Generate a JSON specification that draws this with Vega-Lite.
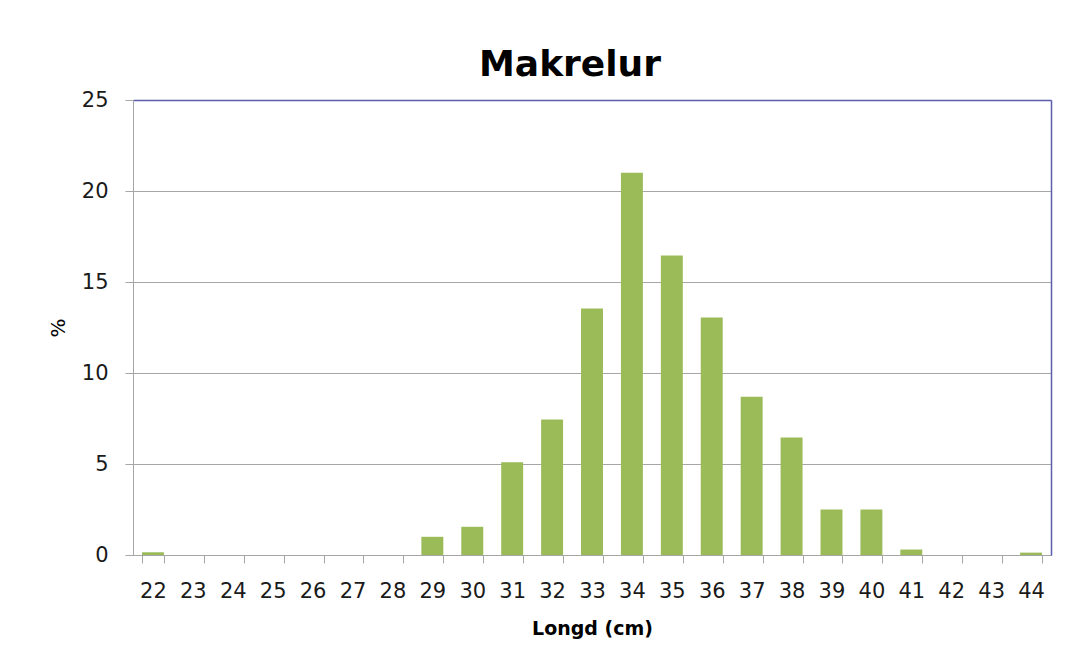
{
  "$schema": "https://vega.github.io/schema/vega-lite/v6.json",
  "autosize": "none",
  "width": 918,
  "height": 455,
  "padding": {"left": 133, "top": 100, "right": 15, "bottom": 107},
  "background": "white",
  "title": {
    "text": "Makrelur",
    "font": "DejaVu Sans",
    "fontSize": 36,
    "fontWeight": "bold",
    "color": "#000000",
    "anchor": "middle",
    "dx": -22,
    "baseline": "alphabetic",
    "offset": -23
  },
  "config": {
    "view": {"stroke": null},
    "axis": {
      "labelFont": "DejaVu Sans",
      "titleFont": "DejaVu Sans",
      "labelColor": "#1a1a1a",
      "titleColor": "#000000"
    }
  },
  "data": {
    "values": [
      {"lengd": 22, "pct": 0.15},
      {"lengd": 23, "pct": 0},
      {"lengd": 24, "pct": 0},
      {"lengd": 25, "pct": 0},
      {"lengd": 26, "pct": 0},
      {"lengd": 27, "pct": 0},
      {"lengd": 28, "pct": 0},
      {"lengd": 29, "pct": 1.0},
      {"lengd": 30, "pct": 1.55},
      {"lengd": 31, "pct": 5.1},
      {"lengd": 32, "pct": 7.45},
      {"lengd": 33, "pct": 13.55},
      {"lengd": 34, "pct": 21.0},
      {"lengd": 35, "pct": 16.45},
      {"lengd": 36, "pct": 13.05},
      {"lengd": 37, "pct": 8.7},
      {"lengd": 38, "pct": 6.45},
      {"lengd": 39, "pct": 2.5},
      {"lengd": 40, "pct": 2.5},
      {"lengd": 41, "pct": 0.3},
      {"lengd": 42, "pct": 0},
      {"lengd": 43, "pct": 0},
      {"lengd": 44, "pct": 0.13}
    ]
  },
  "layer": [
    {
      "mark": {"type": "bar", "color": "#9bbb59"},
      "encoding": {
        "x": {
          "field": "lengd",
          "type": "ordinal",
          "scale": {"paddingInner": 0.45, "paddingOuter": 0.225},
          "axis": {
            "title": "Longd (cm)",
            "titleFontSize": 19,
            "titleFontWeight": "bold",
            "titlePadding": 18,
            "labelFontSize": 21,
            "labelAngle": 0,
            "labelPadding": 17,
            "tickBand": "extent",
            "tickSize": 8,
            "tickColor": "#a6a6a6",
            "domainColor": "#a6a6a6",
            "grid": false
          }
        },
        "y": {
          "field": "pct",
          "type": "quantitative",
          "scale": {"domain": [0, 25], "nice": false},
          "axis": {
            "title": "%",
            "titleFontSize": 20,
            "titleFontWeight": "normal",
            "titlePadding": 13,
            "values": [0, 5, 10, 15, 20, 25],
            "labelFontSize": 21,
            "labelPadding": 17,
            "tickSize": 8,
            "tickColor": "#a6a6a6",
            "domainColor": "#a6a6a6",
            "grid": true,
            "gridColor": "#a6a6a6",
            "gridWidth": 1
          }
        }
      }
    },
    {
      "mark": {"type": "bar", "opacity": 0},
      "encoding": {
        "x": {
          "field": "lengd",
          "type": "ordinal",
          "axis": {
            "orient": "top",
            "title": null,
            "labels": false,
            "ticks": false,
            "grid": false,
            "domainColor": "#5b5baf",
            "domainWidth": 1.5
          }
        },
        "y": {
          "field": "pct",
          "type": "quantitative",
          "axis": {
            "orient": "right",
            "title": null,
            "labels": false,
            "ticks": false,
            "grid": false,
            "domainColor": "#5b5baf",
            "domainWidth": 1.5
          }
        }
      }
    }
  ],
  "resolve": {"axis": {"x": "independent", "y": "independent"}}
}
